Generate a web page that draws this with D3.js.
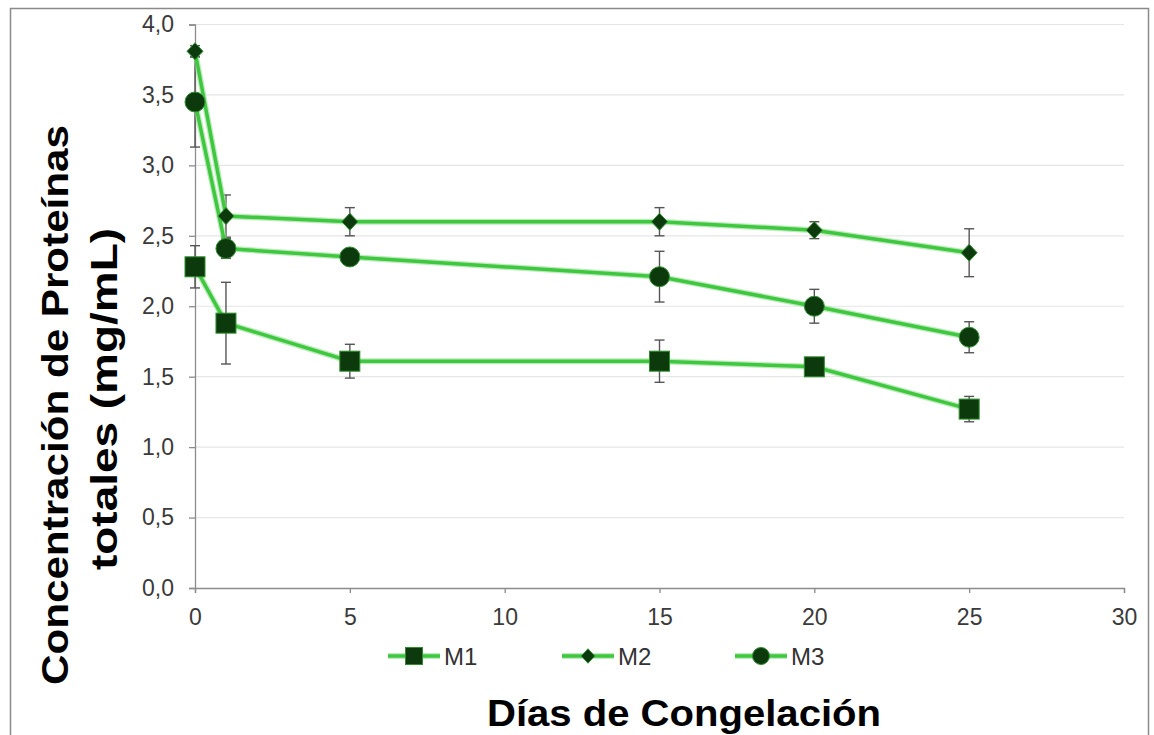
<!DOCTYPE html>
<html><head><meta charset="utf-8">
<script src="https://cdn.jsdelivr.net/npm/d3@7"></script>
<style>body{margin:0;background:#fff;} svg{display:block;}</style>
</head><body>
<svg id="c" width="1154" height="735"></svg>
<script>
const days = [0, 1, 5, 15, 20, 25];
const seriesNames = ["M1", "M2", "M3"];
const m1 = [2.28, 1.88, 1.61, 1.61, 1.57, 1.27];
const m1Err = [0.15, 0.29, 0.12, 0.15, 0.03, 0.09];
const m2 = [3.81, 2.64, 2.60, 2.60, 2.54, 2.38];
const m2Err = [0.04, 0.15, 0.10, 0.10, 0.06, 0.17];
const m3 = [3.45, 2.41, 2.35, 2.21, 2.00, 1.78];
const m3Err = [0.32, 0.07, 0.04, 0.18, 0.12, 0.11];
const yTicks = [0, 0.5, 1, 1.5, 2, 2.5, 3, 3.5, 4];
const xTicks = [0, 5, 10, 15, 20, 25, 30];
const xTitle = "Días de Congelación";
const yTitle = ["Concentración de Proteínas", "totales (mg/mL)"];

const svg = d3.select("#c");
const x = d3.scaleLinear().domain([0, 30]).range([195, 1124]);
const y = d3.scaleLinear().domain([0, 4]).range([588, 24.5]);
const fmt = v => d3.format(".1f")(v).replace(".", ",");
const FONT = "Liberation Sans, Arial, sans-serif";

// outer frame
svg.append("rect").attr("x", 10.5).attr("y", 8.5).attr("width", 1138).attr("height", 740)
  .attr("fill", "#fff").attr("stroke", "#8a8a8a").attr("stroke-width", 1.5);

// grid
svg.append("g").selectAll("line").data(yTicks.filter(d => d > 0)).join("line")
  .attr("x1", x(0)).attr("x2", x(30)).attr("y1", d => y(d)).attr("y2", d => y(d))
  .attr("stroke", "#e6e6e6").attr("stroke-width", 1.2);

// axes
const yAxis = svg.append("g").attr("transform", `translate(${x(0)},0)`)
  .call(d3.axisLeft(y).tickValues(yTicks).tickFormat(fmt).tickSize(6).tickPadding(15));
const xAxis = svg.append("g").attr("transform", `translate(0,${y(0)})`)
  .call(d3.axisBottom(x).tickValues(xTicks).tickFormat(d3.format("d")).tickSize(5).tickPadding(16));
[yAxis, xAxis].forEach(g => {
  g.select(".domain").attr("stroke", "#8c8c8c").attr("stroke-width", 1.3);
  g.selectAll(".tick line").attr("stroke", "#8c8c8c").attr("stroke-width", 1.3);
  g.selectAll("text").attr("font-family", FONT).attr("font-size", 23).attr("fill", "#3a3a3a");
});

const data = [
  {name: seriesNames[0], vals: m1, err: m1Err, shape: "square"},
  {name: seriesNames[1], vals: m2, err: m2Err, shape: "diamond"},
  {name: seriesNames[2], vals: m3, err: m3Err, shape: "circle"}
];
const lineColor = "#3fc83f";
const markFill = "#0c3a0c";

function drawMarker(g, shape, cx, cy, scale) {
  scale = scale || 1;
  if (shape === "square") {
    const s = 20 * scale;
    g.append("rect").attr("x", cx - s/2).attr("y", cy - s/2).attr("width", s).attr("height", s)
      .attr("fill", markFill).attr("stroke", "#2f8f2f").attr("stroke-width", 1);
  } else if (shape === "diamond") {
    const w = 8 * scale, h = 8.5 * scale;
    g.append("path").attr("d", `M${cx},${cy-h}L${cx+w},${cy}L${cx},${cy+h}L${cx-w},${cy}Z`)
      .attr("fill", markFill).attr("stroke", "#2f8f2f").attr("stroke-width", 1);
  } else {
    g.append("circle").attr("cx", cx).attr("cy", cy).attr("r", 10 * scale)
      .attr("fill", markFill).attr("stroke", "#2f8f2f").attr("stroke-width", 1);
  }
}

const plot = svg.append("g");
// error bars
data.forEach(s => {
  const g = plot.append("g");
  s.vals.forEach((v, i) => {
    const cx = x(days[i]), e = s.err[i];
    g.append("line").attr("x1", cx).attr("x2", cx).attr("y1", y(v + e)).attr("y2", y(v - e))
      .attr("stroke", "#555").attr("stroke-width", 1.4);
    [v + e, v - e].forEach(t => g.append("line").attr("x1", cx - 5).attr("x2", cx + 5)
      .attr("y1", y(t)).attr("y2", y(t)).attr("stroke", "#555").attr("stroke-width", 1.4));
  });
});
// lines
const line = d3.line().x((d, i) => x(days[i])).y(d => y(d));
data.forEach(s => {
  plot.append("path").datum(s.vals).attr("d", line).attr("fill", "none")
    .attr("stroke", "#8fe08f").attr("stroke-width", 6).attr("stroke-opacity", 0.6);
  plot.append("path").datum(s.vals).attr("d", line).attr("fill", "none")
    .attr("stroke", lineColor).attr("stroke-width", 3.5);
});
// markers
data.forEach(s => {
  const g = plot.append("g");
  s.vals.forEach((v, i) => drawMarker(g, s.shape, x(days[i]), y(v)));
});

// legend
const legX = [388, 562, 735];
data.forEach((s, i) => {
  const g = svg.append("g");
  const lx = legX[i], ly = 656;
  g.append("line").attr("x1", lx).attr("x2", lx + 52).attr("y1", ly).attr("y2", ly)
    .attr("stroke", "#7ed87e").attr("stroke-width", 5);
  g.append("line").attr("x1", lx).attr("x2", lx + 52).attr("y1", ly).attr("y2", ly)
    .attr("stroke", lineColor).attr("stroke-width", 3);
  drawMarker(g, s.shape, lx + 26, ly, 0.85);
  g.append("text").attr("x", lx + 56).attr("y", ly + 8.5).text(s.name)
    .attr("font-family", FONT).attr("font-size", 24).attr("fill", "#333");
});

// titles
svg.append("text").attr("x", 684).attr("y", 726).attr("text-anchor", "middle")
  .attr("font-family", FONT).attr("font-weight", "bold")
  .attr("font-size", 37).attr("textLength", 394).attr("lengthAdjust", "spacingAndGlyphs")
  .attr("fill", "#000").text(xTitle);
const yt = svg.append("text").attr("transform", "translate(0,405) rotate(-90)")
  .attr("text-anchor", "middle").attr("font-family", FONT)
  .attr("font-weight", "bold").attr("font-size", 37).attr("fill", "#000");
yt.append("tspan").attr("x", 0).attr("y", 68).attr("textLength", 560).attr("lengthAdjust", "spacingAndGlyphs").text(yTitle[0]);
yt.append("tspan").attr("x", 6).attr("y", 117).attr("textLength", 342).attr("lengthAdjust", "spacingAndGlyphs").text(yTitle[1]);
</script>
</body></html>
